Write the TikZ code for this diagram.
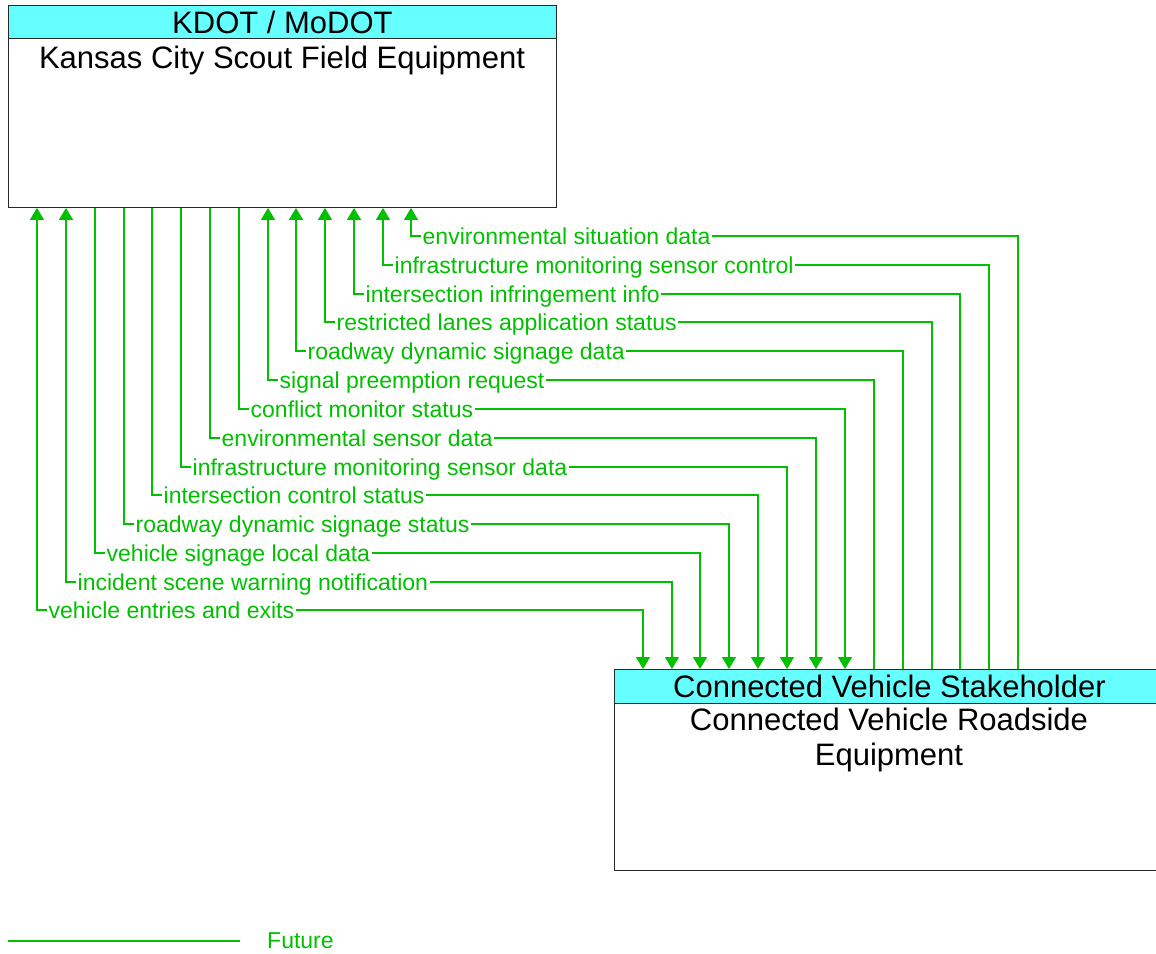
\documentclass[tikz,border=0pt]{standalone}
\usepackage{fontspec}
\setmainfont{Liberation Sans}
\usetikzlibrary{arrows.meta}
\definecolor{flowgreen}{RGB}{0,192,0}
\definecolor{hdrcyan}{RGB}{102,255,255}
\definecolor{edge}{RGB}{40,40,40}
\begin{document}
\begin{tikzpicture}[x=1pt,y=-1pt,
  box/.style={draw=edge, line width=0.9pt, fill=white, inner sep=0pt, anchor=north west},
  hdr/.style={draw=edge, line width=0.9pt, fill=hdrcyan, inner sep=0pt, anchor=north west,
    font=\fontsize{31}{35}\selectfont},
  title/.style={font=\fontsize{31}{35}\selectfont, anchor=base, inner sep=0pt},
  flow/.style={draw=flowgreen, line width=1.3pt},
  tip/.tip={Triangle[width=14pt,length=12pt]},
  toup/.style={tip-},
  todown/.style={-tip},
  twoway/.style={tip-tip},
  lbl/.style={font=\fontsize{23}{27}\selectfont, text=flowgreen, fill=white,
    inner xsep=1.5pt, inner ysep=1pt, anchor=base west, xshift=10pt, yshift=-8pt}]
\useasboundingbox (0,0) rectangle (1156,953);

% Kansas City Scout field equipment
\node[box, minimum width=548pt, minimum height=202pt] (kcs) at (8,5) {};
\node[hdr, minimum width=548pt, minimum height=33pt] (kcsh) at (8,5) {KDOT / MoDOT};
\node[title] (kcst) at (282,68) {Kansas City Scout Field Equipment};

% Connected vehicle roadside equipment
\node[box, minimum width=550pt, minimum height=201pt] (cvr) at (614,669) {};
\node[hdr, minimum width=550pt, minimum height=34pt] (cvrh) at (614,669) {Connected Vehicle Stakeholder};
\node[title] (cvrt1) at (889,730) {Connected Vehicle Roadside};
\node[title] (cvrt2) at (889,765) {Equipment};

% information flows: left x, right x, y, label, direction
\foreach \lx/\rx/\fy/\txt/\dir [count=\i] in {
  411/1018/236/environmental situation data/toup,
  383/989/265/infrastructure monitoring sensor control/toup,
  354/960/294/intersection infringement info/toup,
  325/932/322/restricted lanes application status/toup,
  296/903/351/roadway dynamic signage data/toup,
  268/874/380/signal preemption request/toup,
  239/845/409/conflict monitor status/todown,
  210/816/438/environmental sensor data/todown,
  181/787/467/infrastructure monitoring sensor data/todown,
  152/758/495/intersection control status/todown,
  124/729/524/roadway dynamic signage status/todown,
  95/700/553/vehicle signage local data/todown,
  66/672/582/incident scene warning notification/twoway,
  37/643/610/vehicle entries and exits/twoway}{
  \coordinate (p\i) at (\lx,\fy);
  \coordinate (q\i) at (\rx,\fy);
  \draw[flow, \dir] (kcs.south -| p\i) -- (p\i) -- (q\i) -- (cvr.north -| q\i);
  \node[lbl] (l\i) at (p\i) {\txt};
}

% legend
\coordinate (lg1) at (8,941);
\coordinate (lg2) at (240,941);
\draw[flow] (lg1) -- (lg2);
\node[font=\fontsize{23}{27}\selectfont, text=flowgreen, anchor=base west, inner sep=0pt] (fut) at (267,948) {Future};
\end{tikzpicture}
\end{document}
